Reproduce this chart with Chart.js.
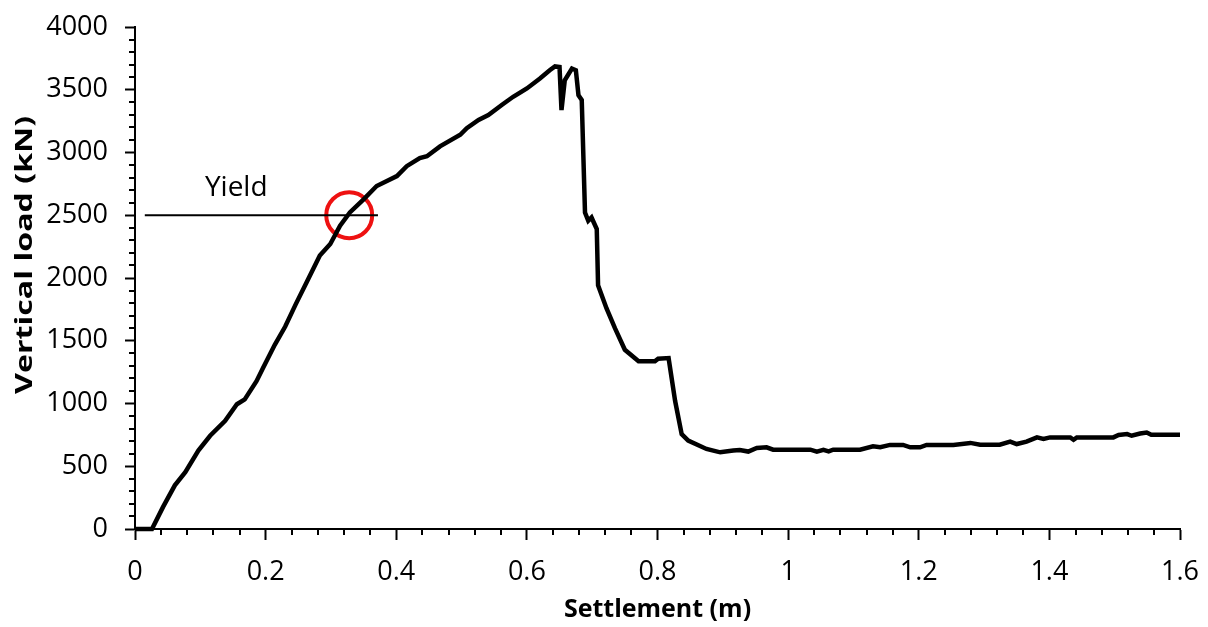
<!DOCTYPE html>
<html>
<head>
<meta charset="utf-8">
<script src="https://cdn.jsdelivr.net/npm/chart.js@4.4.1/dist/chart.umd.min.js"></script>
<style>
    html, body { margin: 0; padding: 0; background: #fff; }
    #wrap { width: 1208px; height: 627px; }
</style>
</head>
<body>
<div id="wrap"><canvas id="loadChart" width="1208" height="627"></canvas></div>
<script>
// settlement (m) vs vertical load (kN)
const settlement = [0, 0.026, 0.043, 0.061, 0.077, 0.097, 0.115, 0.138, 0.156, 0.168, 0.186, 0.196, 0.214, 0.230, 0.246, 0.263, 0.283, 0.299, 0.314, 0.329, 0.350, 0.370, 0.401, 0.416, 0.436, 0.447, 0.467, 0.498, 0.508, 0.526, 0.541, 0.562, 0.579, 0.600, 0.620, 0.635, 0.643, 0.650, 0.653, 0.658, 0.669, 0.675, 0.679, 0.684, 0.689, 0.694, 0.699, 0.707, 0.709, 0.722, 0.735, 0.750, 0.771, 0.796, 0.801, 0.817, 0.827, 0.837, 0.847, 0.875, 0.896, 0.916, 0.926, 0.939, 0.952, 0.967, 0.977, 1.034, 1.044, 1.054, 1.062, 1.069, 1.110, 1.130, 1.141, 1.156, 1.176, 1.187, 1.202, 1.212, 1.253, 1.279, 1.294, 1.324, 1.340, 1.350, 1.365, 1.381, 1.391, 1.401, 1.432, 1.437, 1.442, 1.498, 1.506, 1.519, 1.526, 1.539, 1.549, 1.556, 1.600];
const load = [0, 0, 176, 348, 453, 625, 743, 862, 994, 1033, 1178, 1283, 1468, 1613, 1790, 1968, 2179, 2271, 2417, 2522, 2627, 2733, 2812, 2891, 2956, 2970, 3049, 3141, 3194, 3260, 3299, 3380, 3444, 3510, 3589, 3655, 3686, 3681, 3338, 3576, 3668, 3655, 3457, 3418, 2522, 2456, 2482, 2390, 1942, 1757, 1599, 1428, 1336, 1336, 1357, 1362, 1020, 756, 704, 638, 611, 625, 630, 617, 646, 651, 632, 632, 617, 630, 619, 632, 632, 659, 651, 670, 670, 651, 651, 670, 670, 686, 672, 672, 696, 677, 696, 730, 717, 730, 730, 711, 730, 730, 749, 756, 743, 761, 769, 751, 751];

// yield marker
const yieldLineX = [0.015, 0.372];
const yieldLineY = [2500, 2500];
const yieldPoint = [0.328, 2500];
const yieldLabel = 'Yield';
const yieldLabelPos = [0.155, 2720];

const xTickValues = [0, 0.2, 0.4, 0.6, 0.8, 1, 1.2, 1.4, 1.6];
const yTickValues = [0, 500, 1000, 1500, 2000, 2500, 3000, 3500, 4000];

const xTitle = 'Settlement (m)';
const yTitle = 'Vertical load (kN)';

const FONT = "'Open Sans', sans-serif";

// minor ticks, axis titles and the yield text
const extrasPlugin = {
    id: 'extras',
    afterDraw(chart) {
        const ctx = chart.ctx;
        const xs = chart.scales.x;
        const ys = chart.scales.y;
        const area = chart.chartArea;
        ctx.save();
        ctx.strokeStyle = '#000';
        ctx.lineWidth = 2;
        ctx.beginPath();
        for (let v = 0; v <= 4000; v += 100) {
            if (v % 500 === 0) continue;
            const py = Math.round(ys.getPixelForValue(v));
            ctx.moveTo(ys.right - 6, py);
            ctx.lineTo(ys.right, py);
        }
        for (let i = 0; i <= 40; i++) {
            if (i % 5 === 0) continue;
            const px = Math.round(xs.getPixelForValue(i * 0.04));
            ctx.moveTo(px, xs.top);
            ctx.lineTo(px, xs.top + 6);
        }
        ctx.stroke();

        ctx.fillStyle = '#000';
        ctx.textAlign = 'center';
        ctx.textBaseline = 'middle';
        ctx.font = '28px ' + FONT;
        ctx.fillText(yieldLabel, xs.getPixelForValue(yieldLabelPos[0]), ys.getPixelForValue(yieldLabelPos[1]));

        ctx.font = 'bold 25px ' + FONT;
        ctx.fillText(xTitle, (area.left + area.right) / 2, chart.height - 17);

        // y title is drawn a bit stretched, like the source
        ctx.font = 'bold 23px ' + FONT;
        const w = ctx.measureText(yTitle).width;
        ctx.translate(25, area.top + (area.bottom - area.top) * 0.454);
        ctx.rotate(-Math.PI / 2);
        ctx.scale(278 / w, 1);
        ctx.fillText(yTitle, 0, 0);
        ctx.restore();
    }
};

// let the layout padding alone decide the plot area
function noLabelPadding(scale) {
    scale.paddingTop = 0;
    scale.paddingBottom = 0;
    scale.paddingLeft = 0;
    scale.paddingRight = 0;
}

function initializeChart() {
    const ctx = document.getElementById('loadChart').getContext('2d');
    new Chart(ctx, {
        type: 'line',
        data: {
            datasets: [
                {
                    label: 'Load',
                    data: settlement.map((s, i) => ({ x: s, y: load[i] })),
                    borderColor: '#000',
                    borderWidth: 4.5,
                    pointRadius: 0,
                    tension: 0,
                    clip: false
                },
                {
                    label: 'Yield line',
                    data: yieldLineX.map((s, i) => ({ x: s, y: yieldLineY[i] })),
                    borderColor: '#000',
                    borderWidth: 2,
                    pointRadius: 0
                },
                {
                    label: 'Yield point',
                    data: [{ x: yieldPoint[0], y: yieldPoint[1] }],
                    showLine: false,
                    pointRadius: 23,
                    pointBorderWidth: 4,
                    pointBorderColor: '#ee1111',
                    pointBackgroundColor: 'rgba(0,0,0,0)'
                }
            ]
        },
        options: {
            responsive: false,
            animation: false,
            layout: { padding: { top: 23, right: 28, left: 0, bottom: 0 } },
            plugins: {
                legend: { display: false },
                tooltip: { enabled: false }
            },
            scales: {
                x: {
                    type: 'linear',
                    min: 0,
                    max: 1.6,
                    afterBuildTicks: (scale) => { scale.ticks = xTickValues.map(v => ({ value: v })); },
                    afterFit: (scale) => { scale.height = 98; noLabelPadding(scale); },
                    border: { color: '#000', width: 2 },
                    grid: { drawOnChartArea: false, tickLength: 11, tickColor: '#000', tickWidth: 2 },
                    ticks: {
                        color: '#000',
                        font: { family: FONT, size: 27 },
                        padding: 16,
                        maxRotation: 0,
                        callback: (v) => String(+v.toFixed(1))
                    }
                },
                y: {
                    type: 'linear',
                    min: 0,
                    max: 4000,
                    afterBuildTicks: (scale) => { scale.ticks = yTickValues.map(v => ({ value: v })); },
                    afterFit: (scale) => { scale.width = 135; noLabelPadding(scale); },
                    border: { color: '#000', width: 2 },
                    grid: { drawOnChartArea: false, tickLength: 10, tickColor: '#000', tickWidth: 2 },
                    ticks: {
                        color: '#000',
                        font: { family: FONT, size: 27 },
                        padding: 17,
                        callback: (v) => String(v)
                    }
                }
            }
        },
        plugins: [extrasPlugin]
    });
}

document.addEventListener('DOMContentLoaded', () => {
    initializeChart();
});
</script>
</body>
</html>
